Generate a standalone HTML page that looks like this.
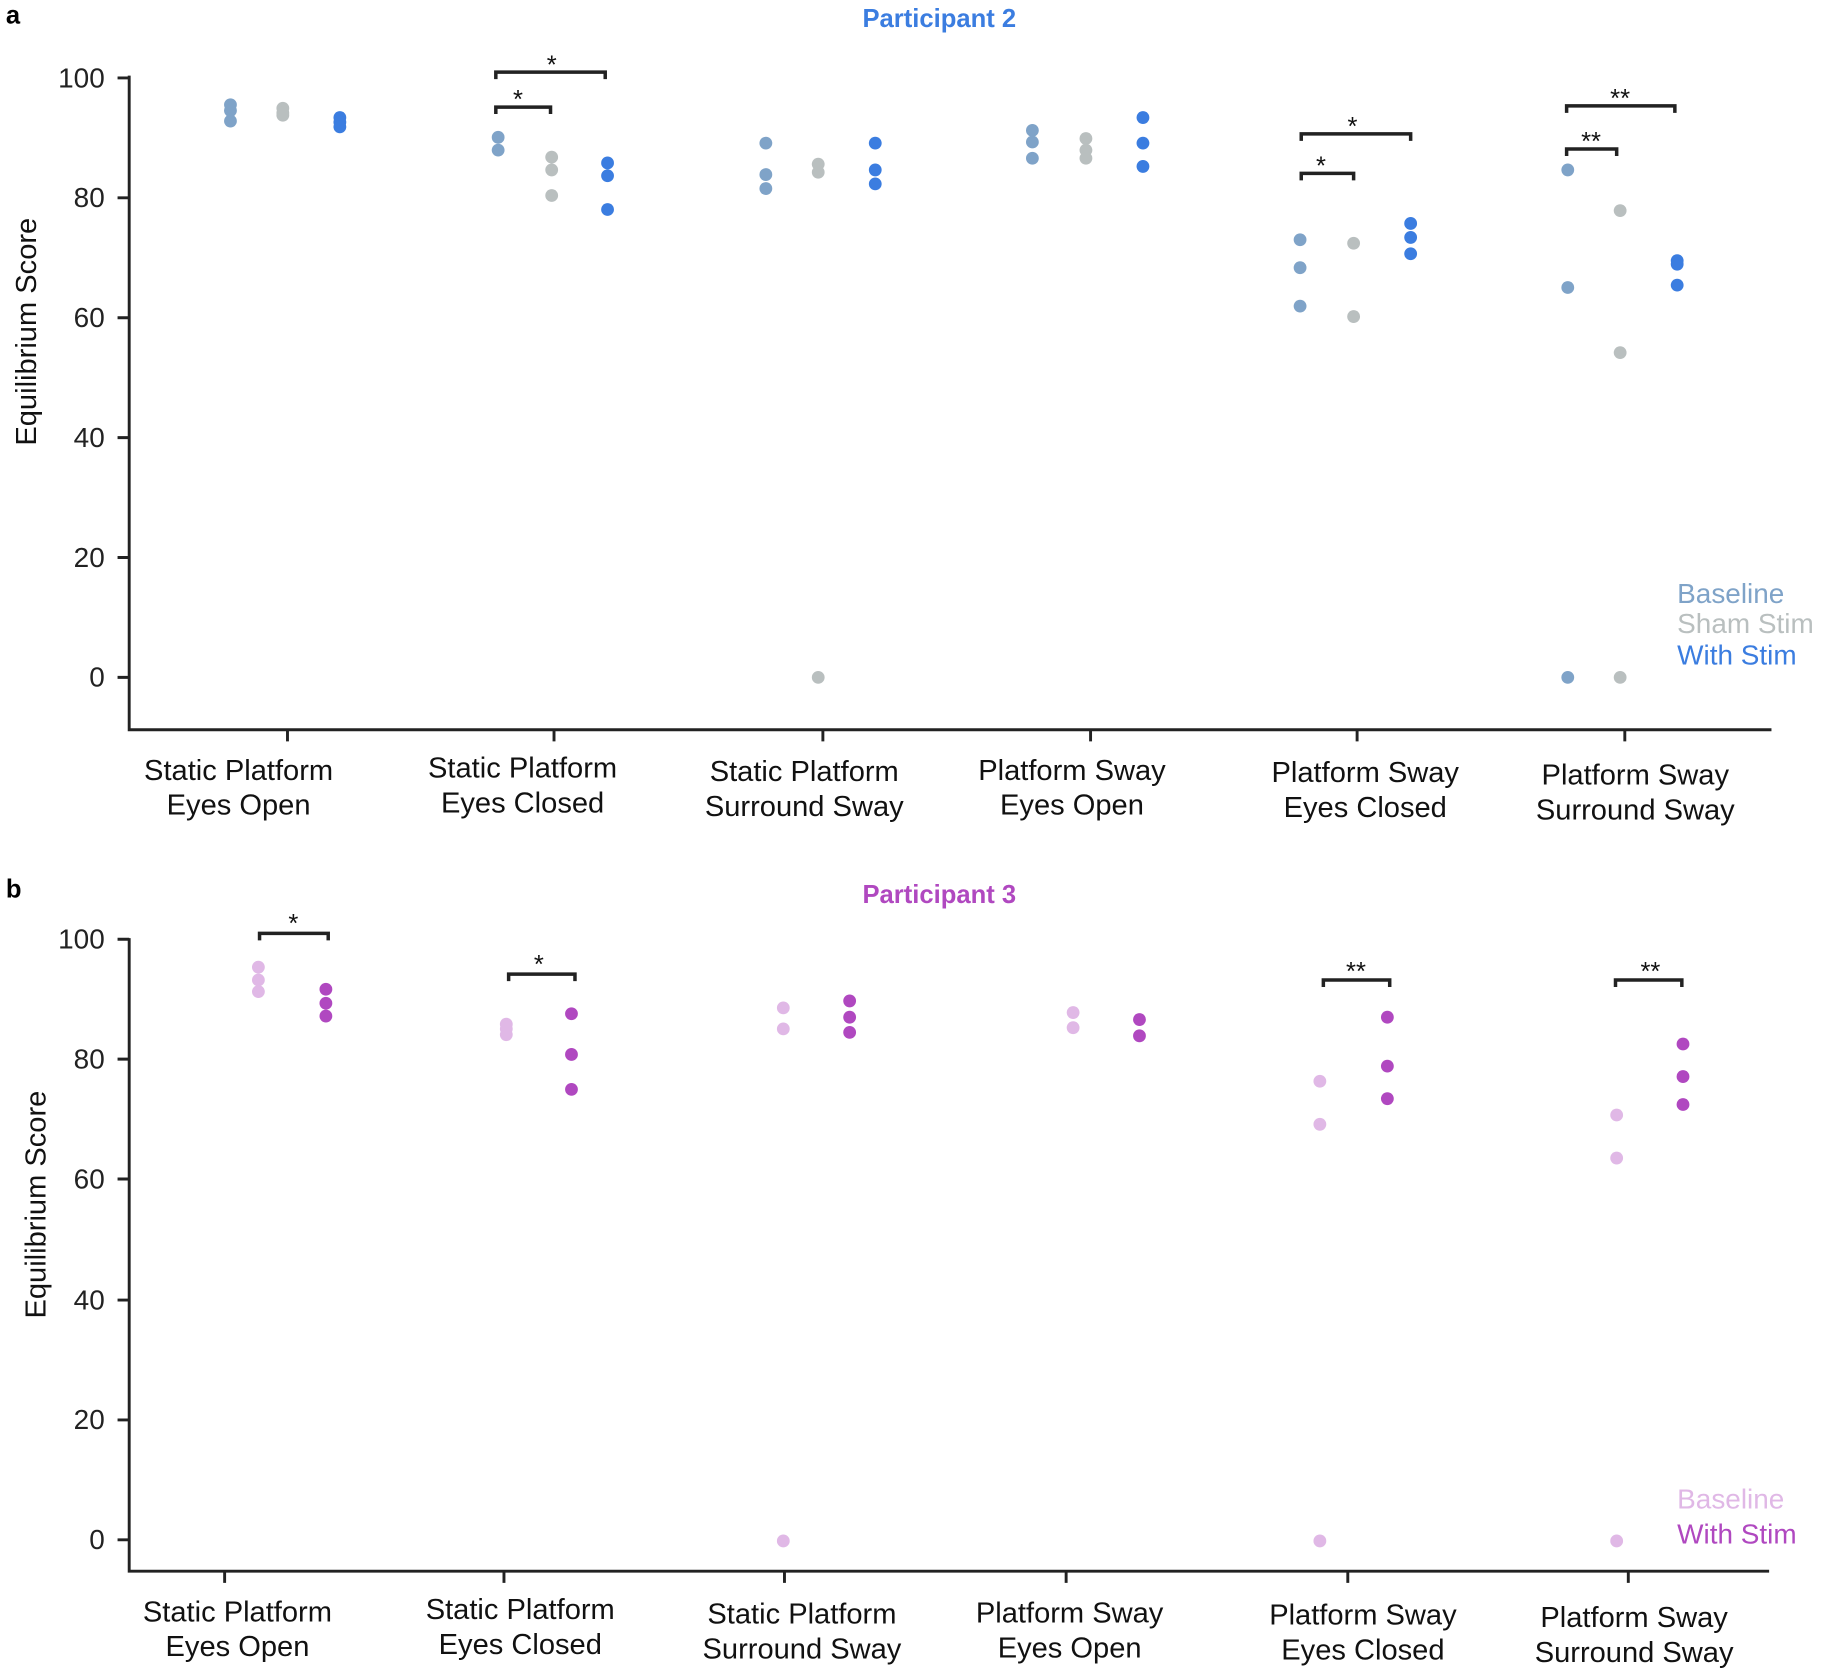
<!DOCTYPE html>
<html><head><meta charset="utf-8"><style>html,body{margin:0;padding:0;background:#fff}svg{display:block}</style></head><body>
<svg width="1825" height="1672" viewBox="0 0 1568 1436.6" preserveAspectRatio="none" xmlns="http://www.w3.org/2000/svg" font-family="Liberation Sans, sans-serif">
<style>.t{font-size:24px;fill:#222}.x{font-size:25px;fill:#111;text-anchor:middle}.s{font-size:22px;fill:#111;text-anchor:middle}</style>
<text x="5" y="20" font-weight="bold" font-size="22">a</text>
<text x="5" y="771" font-weight="bold" font-size="22">b</text>
<text x="807" y="23" font-weight="bold" font-size="22" fill="#3b7de0" text-anchor="middle">Participant 2</text>
<text x="807" y="776" font-weight="bold" font-size="22" fill="#b048c0" text-anchor="middle">Participant 3</text>
<g stroke="#222" stroke-width="2.5" fill="none">
<path d="M111 65V627H1522"/>
<path d="M101 67H111M101 170H111M101 273H111M101 376H111M101 479H111M101 582H111"/>
<path d="M247 627V637M476 627V637M707 627V637M937 627V637M1166 627V637M1396 627V637"/>
<path d="M111 806V1350H1520"/>
<path d="M101 807H111M101 910H111M101 1013H111M101 1117H111M101 1220H111M101 1323H111"/>
<path d="M193 1350V1360M433 1350V1360M674 1350V1360M916 1350V1360M1158 1350V1360M1399 1350V1360"/>
<g stroke-width="3">
<path d="M426 98V92H473V98M426 68V62H520V68M1118 155V149H1163V155M1118 121V115H1212V121M1346 134V128H1389V134M1346 97V91H1439V97"/>
<path d="M223 808V802H282V808M437 843V837H494V843M1137 848V842H1194V848M1388 848V842H1445V848"/>
</g></g>
<g class="t" text-anchor="end">
<text x="90" y="75">100</text><text x="90" y="178">80</text><text x="90" y="281">60</text><text x="90" y="384">40</text><text x="90" y="487">20</text><text x="90" y="590">0</text>
<text x="90" y="815">100</text><text x="90" y="918">80</text><text x="90" y="1021">60</text><text x="90" y="1125">40</text><text x="90" y="1228">20</text><text x="90" y="1331">0</text>
</g>
<text transform="translate(31 285) rotate(-90)" font-size="25" text-anchor="middle" fill="#111">Equilibrium Score</text>
<text transform="translate(39 1035) rotate(-90)" font-size="25" text-anchor="middle" fill="#111">Equilibrium Score</text>
<g class="s">
<text x="445" y="93">*</text><text x="474" y="63">*</text><text x="1135" y="150">*</text><text x="1162" y="116">*</text><text x="1367" y="129">**</text><text x="1392" y="92">**</text>
<text x="252" y="801">*</text><text x="463" y="836">*</text><text x="1165" y="842">**</text><text x="1418" y="842">**</text>
</g>
<g class="x">
<text x="205" y="670">Static Platform</text><text x="205" y="700">Eyes Open</text>
<text x="449" y="668">Static Platform</text><text x="449" y="698">Eyes Closed</text>
<text x="691" y="671">Static Platform</text><text x="691" y="701">Surround Sway</text>
<text x="921" y="670">Platform Sway</text><text x="921" y="700">Eyes Open</text>
<text x="1173" y="672">Platform Sway</text><text x="1173" y="702">Eyes Closed</text>
<text x="1405" y="674">Platform Sway</text><text x="1405" y="704">Surround Sway</text>
<text x="204" y="1393">Static Platform</text><text x="204" y="1423">Eyes Open</text>
<text x="447" y="1391">Static Platform</text><text x="447" y="1421">Eyes Closed</text>
<text x="689" y="1395">Static Platform</text><text x="689" y="1425">Surround Sway</text>
<text x="919" y="1394">Platform Sway</text><text x="919" y="1424">Eyes Open</text>
<text x="1171" y="1396">Platform Sway</text><text x="1171" y="1426">Eyes Closed</text>
<text x="1404" y="1398">Platform Sway</text><text x="1404" y="1428">Surround Sway</text>
</g>
<g font-size="24">
<text x="1441" y="518" fill="#7fa3c8">Baseline</text>
<text x="1441" y="544" fill="#b9bfbf">Sham Stim</text>
<text x="1441" y="571" fill="#3b7de0">With Stim</text>
<text x="1441" y="1296" fill="#e0b8e6">Baseline</text>
<text x="1441" y="1326" fill="#b048c0">With Stim</text>
</g>
<g fill="#7fa3c8">
<circle cx="198" cy="90" r="5.5"/><circle cx="198" cy="95" r="5.5"/><circle cx="198" cy="104" r="5.5"/>
<circle cx="428" cy="118" r="5.5"/><circle cx="428" cy="129" r="5.5"/>
<circle cx="658" cy="123" r="5.5"/><circle cx="658" cy="150" r="5.5"/><circle cx="658" cy="162" r="5.5"/>
<circle cx="887" cy="112" r="5.5"/><circle cx="887" cy="122" r="5.5"/><circle cx="887" cy="136" r="5.5"/>
<circle cx="1117" cy="206" r="5.5"/><circle cx="1117" cy="230" r="5.5"/><circle cx="1117" cy="263" r="5.5"/>
<circle cx="1347" cy="146" r="5.5"/><circle cx="1347" cy="247" r="5.5"/><circle cx="1347" cy="582" r="5.5"/>
</g>
<g fill="#b9bfbf">
<circle cx="243" cy="93" r="5.5"/><circle cx="243" cy="97" r="5.5"/><circle cx="243" cy="99" r="5.5"/>
<circle cx="474" cy="135" r="5.5"/><circle cx="474" cy="146" r="5.5"/><circle cx="474" cy="168" r="5.5"/>
<circle cx="703" cy="141" r="5.5"/><circle cx="703" cy="148" r="5.5"/><circle cx="703" cy="582" r="5.5"/>
<circle cx="933" cy="119" r="5.5"/><circle cx="933" cy="129" r="5.5"/><circle cx="933" cy="136" r="5.5"/>
<circle cx="1163" cy="209" r="5.5"/><circle cx="1163" cy="272" r="5.5"/>
<circle cx="1392" cy="181" r="5.5"/><circle cx="1392" cy="303" r="5.5"/><circle cx="1392" cy="582" r="5.5"/>
</g>
<g fill="#3b7de0">
<circle cx="292" cy="101" r="5.5"/><circle cx="292" cy="105" r="5.5"/><circle cx="292" cy="109" r="5.5"/>
<circle cx="522" cy="140" r="5.5"/><circle cx="522" cy="151" r="5.5"/><circle cx="522" cy="180" r="5.5"/>
<circle cx="752" cy="123" r="5.5"/><circle cx="752" cy="146" r="5.5"/><circle cx="752" cy="158" r="5.5"/>
<circle cx="982" cy="101" r="5.5"/><circle cx="982" cy="123" r="5.5"/><circle cx="982" cy="143" r="5.5"/>
<circle cx="1212" cy="192" r="5.5"/><circle cx="1212" cy="204" r="5.5"/><circle cx="1212" cy="218" r="5.5"/>
<circle cx="1441" cy="224" r="5.5"/><circle cx="1441" cy="227" r="5.5"/><circle cx="1441" cy="245" r="5.5"/>
</g>
<g fill="#e0b8e6">
<circle cx="222" cy="831" r="5.5"/><circle cx="222" cy="842" r="5.5"/><circle cx="222" cy="852" r="5.5"/>
<circle cx="435" cy="880" r="5.5"/><circle cx="435" cy="884" r="5.5"/><circle cx="435" cy="889" r="5.5"/>
<circle cx="673" cy="866" r="5.5"/><circle cx="673" cy="884" r="5.5"/><circle cx="673" cy="1324" r="5.5"/>
<circle cx="922" cy="870" r="5.5"/><circle cx="922" cy="883" r="5.5"/>
<circle cx="1134" cy="929" r="5.5"/><circle cx="1134" cy="966" r="5.5"/><circle cx="1134" cy="1324" r="5.5"/>
<circle cx="1389" cy="958" r="5.5"/><circle cx="1389" cy="995" r="5.5"/><circle cx="1389" cy="1324" r="5.5"/>
</g>
<g fill="#b048c0">
<circle cx="280" cy="850" r="5.5"/><circle cx="280" cy="862" r="5.5"/><circle cx="280" cy="873" r="5.5"/>
<circle cx="491" cy="871" r="5.5"/><circle cx="491" cy="906" r="5.5"/><circle cx="491" cy="936" r="5.5"/>
<circle cx="730" cy="860" r="5.5"/><circle cx="730" cy="874" r="5.5"/><circle cx="730" cy="887" r="5.5"/>
<circle cx="979" cy="876" r="5.5"/><circle cx="979" cy="890" r="5.5"/>
<circle cx="1192" cy="874" r="5.5"/><circle cx="1192" cy="916" r="5.5"/><circle cx="1192" cy="944" r="5.5"/>
<circle cx="1446" cy="897" r="5.5"/><circle cx="1446" cy="925" r="5.5"/><circle cx="1446" cy="949" r="5.5"/>
</g>
</svg>
</body></html>
